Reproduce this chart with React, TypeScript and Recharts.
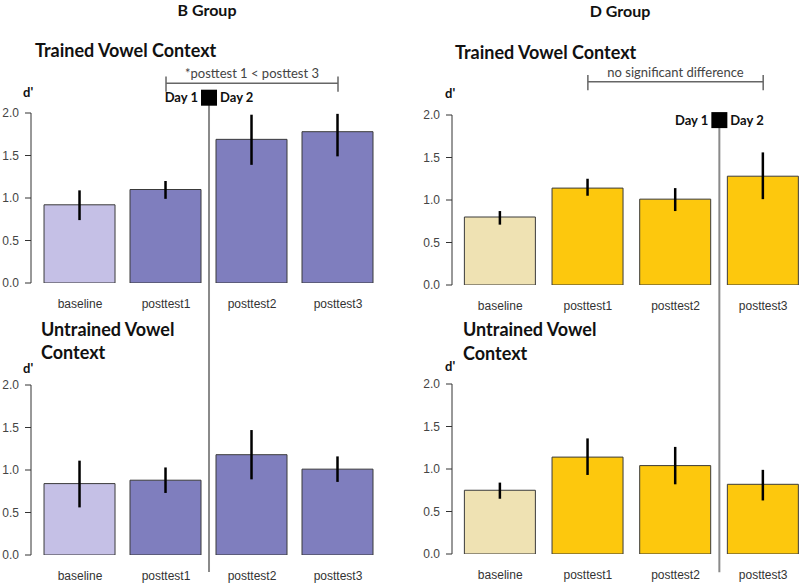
import React from "react";
import { Bar, BarChart, Cell, ErrorBar, ReferenceDot, ReferenceLine, XAxis, YAxis } from "recharts";

const categories = ["baseline", "posttest1", "posttest2", "posttest3"];
const yTicks = [0, 0.5, 1, 1.5, 2];

// d' means and error bar ends
const bTrained = [0.92, 1.1, 1.69, 1.78];
const bTrainedLow = [0.74, 0.99, 1.39, 1.49];
const bTrainedHigh = [1.09, 1.2, 1.98, 1.99];

const bUntrained = [0.84, 0.88, 1.18, 1.01];
const bUntrainedLow = [0.56, 0.73, 0.89, 0.86];
const bUntrainedHigh = [1.11, 1.03, 1.47, 1.16];

const dTrained = [0.8, 1.14, 1.01, 1.28];
const dTrainedLow = [0.71, 1.05, 0.87, 1.01];
const dTrainedHigh = [0.87, 1.25, 1.14, 1.56];

const dUntrained = [0.75, 1.14, 1.04, 0.82];
const dUntrainedLow = [0.65, 0.93, 0.82, 0.63];
const dUntrainedHigh = [0.84, 1.36, 1.26, 0.99];

const B_LIGHT = "#c5c0e6";
const B_DARK = "#7f7ebe";
const D_LIGHT = "#efe2b3";
const D_DARK = "#fdc80d";

const SANS = "'Liberation Sans', Arial, sans-serif";
const TITLE = "Lato, 'Open Sans', sans-serif";

function rows(values: number[], low: number[], high: number[]) {
  return values.map((v, i) => ({ x: i, value: v, err: [v - low[i], high[i] - v] }));
}

const DayMarker = (props: any) => {
  const { cx, cy } = props;
  return (
    <g>
      <rect x={cx - 8} y={cy - 8} width={16} height={16} fill="#000" />
      <text x={cx - 11} y={cy + 4.5} textAnchor="end" fontFamily={TITLE} fontWeight="bold" fontSize={13} fill="#111">Day 1</text>
      <text x={cx + 11} y={cy + 4.5} textAnchor="start" fontFamily={TITLE} fontWeight="bold" fontSize={13} fill="#111">Day 2</text>
    </g>
  );
};

const bracketText = (label: string) => (props: any) => (
  <text x={props.cx} y={props.cy - 5} textAnchor="middle" fontFamily={TITLE} fontSize={13} fill="#444">{label}</text>
);

function Panel(props: any) {
  const { data, light, dark, left, top, height, margin, yWidth, xDomain, children } = props;
  return (
    <div style={{ position: "absolute", left, top }}>
      <BarChart width={400} height={height} data={data} margin={margin}>
        <XAxis
          type="number"
          dataKey="x"
          domain={xDomain}
          allowDataOverflow
          ticks={[0, 1, 2, 3]}
          interval={0}
          tickFormatter={(i: number) => categories[i]}
          axisLine={false}
          tickLine={false}
          tickMargin={10}
          height={props.xHeight}
          tick={{ fill: "#333", fontSize: 12, fontFamily: SANS }}
        />
        <YAxis
          domain={[0, 2]}
          allowDataOverflow
          ticks={yTicks}
          interval={0}
          tickFormatter={(v: number) => v.toFixed(1)}
          width={yWidth}
          tickSize={6}
          tickMargin={6}
          axisLine={{ stroke: "#333" }}
          tickLine={{ stroke: "#333" }}
          tick={{ fill: "#444", fontSize: 12, fontFamily: SANS }}
        />
        <Bar dataKey="value" barSize={71} stroke="#3a3a3a" strokeWidth={1} isAnimationActive={false}>
          {data.map((_: any, i: number) => (
            <Cell key={i} fill={i === 0 ? light : dark} />
          ))}
          <ErrorBar dataKey="err" direction="y" width={0} stroke="#000" strokeWidth={2.5} isAnimationActive={false} />
        </Bar>
        {children}
      </BarChart>
    </div>
  );
}

function Bracket({ y, label }: { y: number; label: string }) {
  return (
    <>
      <ReferenceLine segment={[{ x: 1, y }, { x: 3, y }]} ifOverflow="visible" stroke="#666" strokeWidth={1.5} />
      <ReferenceLine segment={[{ x: 1, y: y + 0.08 }, { x: 1, y: y - 0.1 }]} ifOverflow="visible" stroke="#666" strokeWidth={1.5} />
      <ReferenceLine segment={[{ x: 3, y: y + 0.08 }, { x: 3, y: y - 0.1 }]} ifOverflow="visible" stroke="#666" strokeWidth={1.5} />
      <ReferenceDot x={2} y={y} ifOverflow="visible" shape={bracketText(label)} />
    </>
  );
}

export default function App() {
  const leftDomain = [-0.57, 3.5];
  const rightDomain = [-0.55, 3.42];
  return (
    <div style={{ position: "absolute", left: 0, top: 0, width: 800, height: 584, overflow: "hidden", background: "#fff" }}>
      <style>{`.recharts-surface{overflow:visible}`}</style>

      <Panel data={rows(bTrained, bTrainedLow, bTrainedHigh)} light={B_LIGHT} dark={B_DARK} left={0} top={0} height={320}
        margin={{ top: 113, right: 19, left: 0, bottom: 7 }} yWidth={31} xHeight={30} xDomain={leftDomain}>
        <ReferenceLine segment={[{ x: 1.5, y: 2.18 }, { x: 1.5, y: -3.4 }]} ifOverflow="visible" stroke="#8a8a8a" strokeWidth={2} />
        <ReferenceDot x={1.5} y={2.18} ifOverflow="visible" shape={DayMarker} />
        <Bracket y={2.35} label="*posttest 1 < posttest 3" />
      </Panel>

      <Panel data={rows(dTrained, dTrainedLow, dTrainedHigh)} light={D_LIGHT} dark={D_DARK} left={400} top={0} height={320}
        margin={{ top: 115, right: 0, left: 0, bottom: 5 }} yWidth={52} xHeight={30} xDomain={rightDomain}>
        <ReferenceLine segment={[{ x: 2.5, y: 1.94 }, { x: 2.5, y: -3.38 }]} ifOverflow="visible" stroke="#8a8a8a" strokeWidth={2} />
        <ReferenceDot x={2.5} y={1.94} ifOverflow="visible" shape={DayMarker} />
        <Bracket y={2.39} label="no significant difference" />
      </Panel>

      <Panel data={rows(bUntrained, bUntrainedLow, bUntrainedHigh)} light={B_LIGHT} dark={B_DARK} left={0} top={320} height={264}
        margin={{ top: 65, right: 19, left: 0, bottom: 7 }} yWidth={31} xHeight={22} xDomain={leftDomain} />

      <Panel data={rows(dUntrained, dUntrainedLow, dUntrainedHigh)} light={D_LIGHT} dark={D_DARK} left={400} top={320} height={264}
        margin={{ top: 64, right: 0, left: 0, bottom: 8 }} yWidth={52} xHeight={22} xDomain={rightDomain} />

      <svg width={800} height={584} style={{ position: "absolute", left: 0, top: 0, pointerEvents: "none" }}>
        <g fontFamily={TITLE} fontWeight="bold" fill="#111">
          <text x={207} y={16} fontSize={16} textAnchor="middle">B Group</text>
          <text x={620} y={17} fontSize={16} textAnchor="middle">D Group</text>
          <text x={35} y={57} fontSize={18}>Trained Vowel Context</text>
          <text x={455} y={59} fontSize={18}>Trained Vowel Context</text>
          <text x={41} y={336} fontSize={18}>Untrained Vowel</text>
          <text x={41} y={359} fontSize={18}>Context</text>
          <text x={463} y={336} fontSize={18}>Untrained Vowel</text>
          <text x={463} y={360} fontSize={18}>Context</text>
          <text x={23} y={97} fontSize={13}>d'</text>
          <text x={445} y={98} fontSize={13}>d'</text>
          <text x={23} y={373} fontSize={13}>d'</text>
          <text x={445} y={371} fontSize={13}>d'</text>
        </g>
      </svg>
    </div>
  );
}
